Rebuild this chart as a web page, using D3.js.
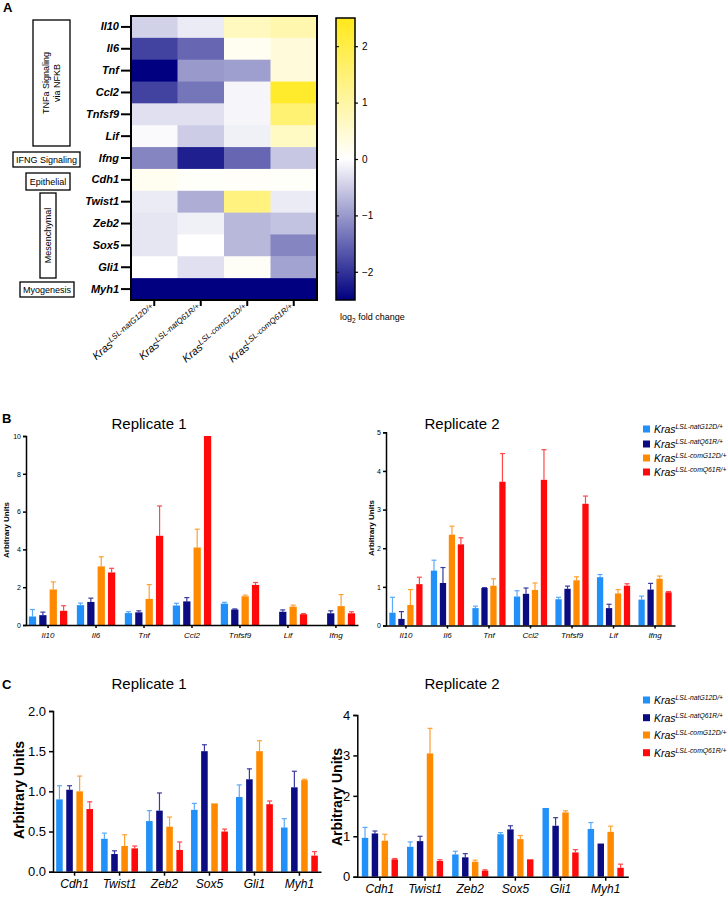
<!DOCTYPE html>
<html><head><meta charset="utf-8">
<script src="https://cdn.jsdelivr.net/npm/d3@7"></script>
<style>body{margin:0;background:#fff}svg{display:block;font-family:"Liberation Sans",Arial,sans-serif}</style>
</head><body><svg id="c" width="728" height="897"></svg>
<script>
// ---------- DATA ----------
const heatGenes = ["Il10","Il6","Tnf","Ccl2","Tnfsf9","Lif","Ifng","Cdh1","Twist1","Zeb2","Sox5","Gli1","Myh1"];
const heatCols = ["natG12D/+","natQ61R/+","comG12D/+","comQ61R/+"];
const heatValues = [
  [-0.45,-0.2,0.7,0.9],
  [-1.85,-1.5,0.15,0.4],
  [-2.5,-1.0,-0.95,0.4],
  [-1.85,-1.35,-0.1,2.3],
  [-0.3,-0.3,-0.1,1.55],
  [-0.05,-0.5,-0.15,0.65],
  [-1.2,-2.2,-1.5,-0.55],
  [0.15,0.05,0.08,0.05],
  [-0.2,-0.8,1.4,-0.2],
  [-0.25,-0.15,-0.7,-0.6],
  [-0.25,0.0,-0.7,-1.2],
  [0.0,-0.3,0.1,-0.9],
  [-2.5,-2.5,-2.5,-2.5]
];
const colorTicks = [-2,-1,0,1,2];
const seriesNames = ["LSL-natG12D/+","LSL-natQ61R/+","LSL-comG12D/+","LSL-comQ61R/+"];
const seriesColors = ["#2190f8","#0c0c82","#ff8a00","#ff0a0a"];
const errColors = ["#5aaaf8","#3a3aa0","#ffa030","#ff4848"];

const bGenes = ["Il10","Il6","Tnf","Ccl2","Tnfsf9","Lif","Ifng"];
const bRep1Values = [
  [0.45,1.05,0.63,1.03,1.13,null,null],
  [0.52,1.22,0.67,1.25,0.82,0.70,0.62],
  [1.88,3.10,1.38,4.10,1.52,0.97,1.00],
  [0.75,2.78,4.72,10.0,2.12,0.57,0.62]
];
const bRep1Err = [
  [0.82,1.16,0.70,1.15,1.20,null,null],
  [0.68,1.42,0.75,1.45,0.85,0.80,0.75],
  [2.28,3.61,2.14,5.07,1.58,1.05,1.61],
  [1.02,3.00,6.30,10.0,2.25,0.60,0.70]
];
const bRep1Ticks = [0,2,4,6,8,10];
const bRep2Values = [
  [0.33,1.42,0.45,0.75,0.68,1.25,0.67],
  [0.17,1.10,0.97,0.82,0.95,0.45,0.93],
  [0.53,2.35,1.03,0.92,1.17,0.83,1.21],
  [1.07,2.10,3.72,3.77,3.15,1.03,0.86]
];
const bRep2Err = [
  [0.73,1.69,0.50,0.90,0.73,1.32,0.76],
  [0.36,1.50,0.98,0.97,1.02,0.55,1.09],
  [0.93,2.57,1.21,1.10,1.26,0.93,1.28],
  [1.25,2.27,4.45,4.55,3.35,1.08,0.88]
];
const bRep2Ticks = [0,1,2,3,4,5];

const cGenes = ["Cdh1","Twist1","Zeb2","Sox5","Gli1","Myh1"];
const cRep1Values = [
  [0.90,0.41,0.63,0.77,0.93,0.55],
  [1.02,0.22,0.76,1.50,1.15,1.05],
  [1.00,0.32,0.56,0.85,1.50,1.14],
  [0.78,0.29,0.27,0.50,0.84,0.20]
];
const cRep1Err = [
  [1.07,0.48,0.76,0.85,1.08,0.66],
  [1.07,0.26,0.98,1.58,1.28,1.25],
  [1.19,0.46,0.68,0.85,1.63,1.15],
  [0.87,0.32,0.37,0.53,0.88,0.25]
];
const cRep1Ticks = [0,0.5,1.0,1.5,2.0];
const cRep2Values = [
  [0.96,0.74,0.55,1.05,1.70,1.18],
  [1.07,0.88,0.48,1.17,1.26,0.82],
  [0.89,3.05,0.37,0.93,1.59,1.11],
  [0.43,0.39,0.15,0.43,0.60,0.22]
];
const cRep2Err = [
  [1.22,0.86,0.63,1.09,1.70,1.34],
  [1.13,1.00,0.57,1.26,1.46,0.82],
  [1.05,3.67,0.41,1.02,1.63,1.25],
  [0.45,0.42,0.17,0.43,0.67,0.31]
];
const cRep2Ticks = [0,1,2,3,4];

// ---------- DRAW ----------
const svg = d3.select("#c");
const font = '"Liberation Sans",Arial,sans-serif';

// panel letters
[["A",3,12],["B",2,423],["C",2,689]].forEach(([t,x,y])=>{
  svg.append("text").attr("x",x).attr("y",y).attr("font-size",13).attr("font-weight","bold").text(t);
});

// ---- Heatmap ----
const hx = d3.scaleBand().domain(heatCols).range([131,317]);
const hy = d3.scaleBand().domain(heatGenes).range([16,300]);
const heatColor = d3.scaleLinear().domain([-2.5,0,2.5]).range(["#000080","#ffffff","#ffe81a"]).clamp(true);
const hg = svg.append("g");
heatValues.forEach((row,i)=>row.forEach((v,j)=>{
  hg.append("rect").attr("x",hx(heatCols[j])).attr("y",hy(heatGenes[i]))
    .attr("width",hx.bandwidth()+0.5).attr("height",hy.bandwidth()+0.5).attr("fill",heatColor(v));
}));
hg.append("rect").attr("x",131).attr("y",16).attr("width",186).attr("height",284)
  .attr("fill","none").attr("stroke","#000").attr("stroke-width",2);
// row labels
const yAxH = svg.append("g").attr("transform","translate(130,0)")
  .call(d3.axisLeft(hy).tickSize(9).tickPadding(2));
yAxH.select(".domain").remove();
yAxH.selectAll("line").attr("stroke-width",2);
yAxH.selectAll("text").attr("font-family",font).attr("font-size",11).attr("font-style","italic").attr("font-weight","bold").attr("fill","#000");
// column ticks & labels
const xAxH = svg.append("g").attr("transform","translate(0,300)")
  .call(d3.axisBottom(hx).tickSize(6).tickFormat(""));
xAxH.select(".domain").remove();
xAxH.selectAll("line").attr("stroke-width",2);
heatCols.forEach(c=>{
  const cx = hx(c)+hx.bandwidth()/2+2;
  const t = svg.append("text").attr("transform",`translate(${cx},310) rotate(-40)`)
    .attr("text-anchor","end").attr("font-size",11).attr("font-style","italic");
  t.append("tspan").text("Kras");
  t.append("tspan").attr("dy",-4).attr("font-size",8).text("LSL-"+c);
  t.append("tspan").attr("dy",4).attr("font-size",11).text("");
});
// group boxes
const groups = [
  {x:33,y:20,w:37,h:126,rot:true,lines:["TNFa Signaling","via NFKB"]},
  {x:13,y:152,w:67,h:15,rot:false,lines:["IFNG Signaling"]},
  {x:26,y:173,w:44,h:17,rot:false,lines:["Epithelial"]},
  {x:40,y:193,w:16,h:85,rot:true,lines:["Mesenchymal"]},
  {x:20,y:282,w:54,h:15,rot:false,lines:["Myogenesis"]}
];
groups.forEach(g=>{
  svg.append("rect").attr("x",g.x).attr("y",g.y).attr("width",g.w).attr("height",g.h)
    .attr("fill","#fff").attr("stroke","#000").attr("stroke-width",1.3);
  const cx=g.x+g.w/2, cy=g.y+g.h/2;
  const t = svg.append("text").attr("font-size",9).attr("text-anchor","middle")
    .attr("transform",g.rot?`translate(${cx},${cy}) rotate(-90)`:`translate(${cx},${cy})`);
  const n=g.lines.length;
  g.lines.forEach((l,k)=>t.append("tspan").attr("x",0).attr("y",(k-(n-1)/2)*11+3.2).text(l));
});
// colorbar
const defs = svg.append("defs");
const grad = defs.append("linearGradient").attr("id","cb").attr("x1",0).attr("y1",1).attr("x2",0).attr("y2",0);
d3.range(0,1.0001,0.1).forEach(s=>grad.append("stop").attr("offset",s).attr("stop-color",heatColor(-2.5+5*s)));
const cbY = d3.scaleLinear().domain([-2.5,2.5]).range([300,18]);
svg.append("rect").attr("x",336).attr("y",18).attr("width",19).attr("height",282)
  .attr("fill","url(#cb)").attr("stroke","#000").attr("stroke-width",1.5);
const cbAx = svg.append("g").attr("transform","translate(355,0)")
  .call(d3.axisRight(cbY).tickValues(colorTicks).tickSize(3).tickPadding(4).tickFormat(d3.format("d")));
cbAx.select(".domain").remove();
cbAx.selectAll("line").attr("stroke-width",1.2);
cbAx.selectAll("text").attr("font-family",font).attr("font-size",10).attr("fill","#000");
svg.append("g").attr("transform","translate(336,0)").call(d3.axisLeft(cbY).tickValues(colorTicks).tickSize(-3).tickFormat(""))
  .call(g=>g.select(".domain").remove());
const lg = svg.append("text").attr("x",340).attr("y",320).attr("font-size",9);
lg.append("tspan").text("log");
lg.append("tspan").attr("dy",2.5).attr("font-size",6.5).text("2");
lg.append("tspan").attr("dy",-2.5).text(" fold change");

// ---- bar chart helper ----
function barChart(o){
  const g = svg.append("g");
  const x0 = d3.scaleBand().domain(o.genes).range([o.x0,o.x1]).paddingInner(o.pi).paddingOuter(o.po);
  const x1 = d3.scaleBand().domain(d3.range(4)).range([0,x0.bandwidth()]).paddingInner(o.bp);
  const y = d3.scaleLinear().domain([0,o.max]).range([o.yb,o.yt]);
  o.values.forEach((ser,s)=>ser.forEach((v,i)=>{
    if(v==null) return;
    const bx = x0(o.genes[i])+x1(s), bw=x1.bandwidth();
    const e = o.errs[s][i];
    if(e!=null && e>v){
      g.append("line").attr("x1",bx+bw/2).attr("x2",bx+bw/2).attr("y1",y(v)).attr("y2",y(e))
        .attr("stroke",errColors[s]).attr("stroke-width",1.2);
      g.append("line").attr("x1",bx+bw/2-2.5).attr("x2",bx+bw/2+2.5).attr("y1",y(e)).attr("y2",y(e))
        .attr("stroke",errColors[s]).attr("stroke-width",1.2);
    }
    g.append("rect").attr("x",bx).attr("y",y(v)).attr("width",bw).attr("height",y(0)-y(v)).attr("fill",seriesColors[s]);
  }));
  const ya = g.append("g").attr("transform",`translate(${o.x0},0)`)
    .call(d3.axisLeft(y).tickValues(o.ticks).tickSize(o.tk).tickPadding(o.tp).tickFormat(o.fmt));
  ya.select(".domain").attr("stroke-width",o.sw);
  ya.selectAll("line").attr("stroke-width",o.sw);
  ya.selectAll("text").attr("font-family",font).attr("font-size",o.yfs).attr("fill","#000");
  const xa = g.append("g").attr("transform",`translate(0,${o.yb})`)
    .call(d3.axisBottom(x0).tickSize(o.tk).tickPadding(o.xtp).tickSizeOuter(0));
  xa.select(".domain").attr("stroke-width",o.sw);
  xa.selectAll("line").attr("stroke-width",o.sw);
  xa.selectAll("text").attr("font-family",font).attr("font-size",o.xfs).attr("font-style","italic").attr("fill","#000");
  g.append("text").attr("transform",`translate(${o.titleX},${o.titleY}) rotate(-90)`)
    .attr("text-anchor","middle").attr("font-size",o.tfs).attr("font-weight","bold").text("Arbitrary Units");
  svg.append("text").attr("x",o.headX).attr("y",o.headY).attr("text-anchor","middle").attr("font-size",15).text(o.head);
}
const fmtInt = d3.format("d"), fmt1 = d3.format(".1f");
barChart({genes:bGenes,values:bRep1Values,errs:bRep1Err,ticks:bRep1Ticks,max:10,x0:26,x1:358,pi:0.2,po:0.06,bp:0.3,
  yb:625,yt:436,tk:3,tp:2,xtp:4,sw:1.5,yfs:7,xfs:8,fmt:fmtInt,titleX:9,titleY:530,tfs:8,head:"Replicate 1",headX:149,headY:429});
barChart({genes:bGenes,values:bRep2Values,errs:bRep2Err,ticks:bRep2Ticks,max:5,x0:386,x1:675,pi:0.2,po:0.08,bp:0.3,
  yb:625.5,yt:432.3,tk:3,tp:2,xtp:4,sw:1.5,yfs:7,xfs:8,fmt:fmtInt,titleX:374,titleY:528,tfs:8,head:"Replicate 2",headX:462,headY:429});
barChart({genes:cGenes,values:cRep1Values,errs:cRep1Err,ticks:cRep1Ticks,max:2,x0:53,x1:321,pi:0.18,po:0.07,bp:0.35,
  yb:871.7,yt:711,tk:4,tp:3,xtp:4,sw:1.5,yfs:13,xfs:12,fmt:fmt1,titleX:24,titleY:790,tfs:14,head:"Replicate 1",headX:149,headY:689});
barChart({genes:cGenes,values:cRep2Values,errs:cRep2Err,ticks:cRep2Ticks,max:4,x0:357.3,x1:628.3,pi:0.2,po:0.1,bp:0.35,
  yb:876.7,yt:715,tk:4,tp:3,xtp:4,sw:1.5,yfs:13,xfs:12,fmt:fmtInt,titleX:342,titleY:797,tfs:14,head:"Replicate 2",headX:462,headY:689});

// legends
function legend(ys){
  seriesNames.forEach((n,i)=>{
    svg.append("rect").attr("x",643).attr("y",ys[i]-3.5).attr("width",7).attr("height",7).attr("fill",seriesColors[i]);
    const t = svg.append("text").attr("x",654).attr("y",ys[i]+4).attr("font-size",10.5).attr("font-style","italic");
    t.append("tspan").text("Kras");
    t.append("tspan").attr("dy",-4).attr("font-size",6.8).text(n);
  });
}
legend([429,444,458,472]);
legend([700,717.7,735,752.7]);
</script></body></html>
